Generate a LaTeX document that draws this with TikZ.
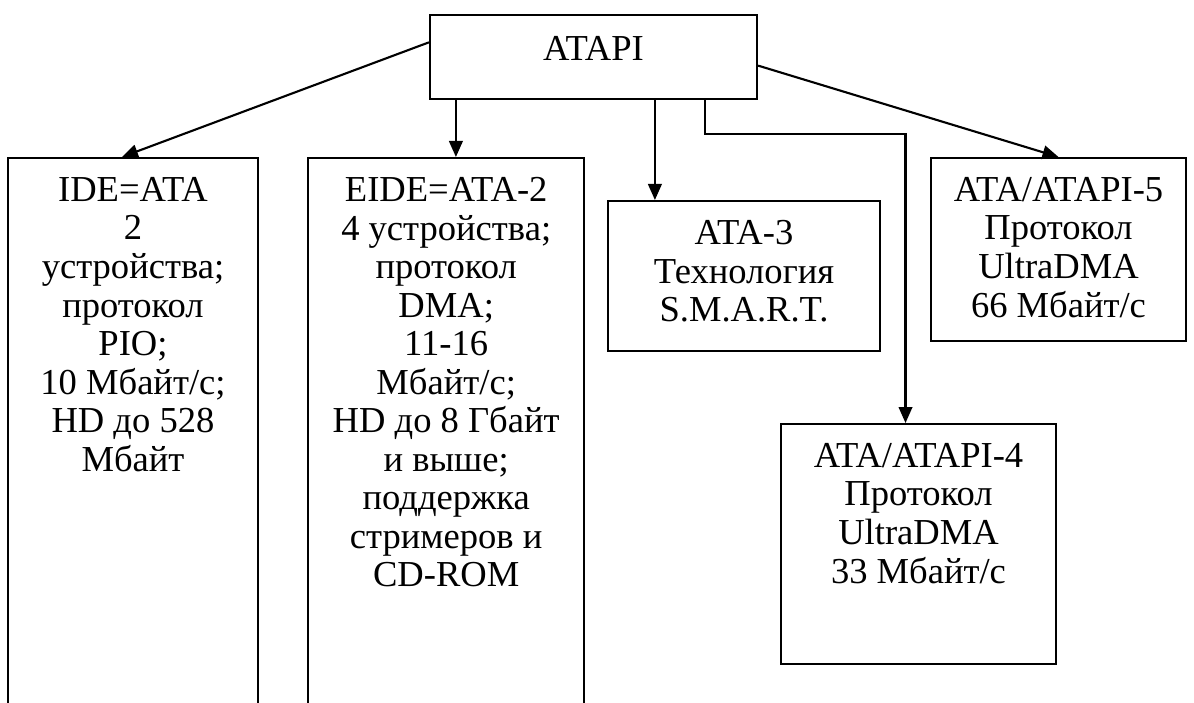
\documentclass[tikz,border=0pt]{standalone}
\usepackage{fontspec}
\setmainfont{Liberation Serif}
\usetikzlibrary{arrows.meta, positioning, calc}
\newcommand{\boxfont}{\fontsize{26}{27.4}\selectfont}

\begin{document}
\begin{tikzpicture}[
    x=0.025cm, y=-0.025cm,
    root/.style={rectangle, draw=black, line width=1.5pt, minimum width=8.175cm, minimum height=2.1cm, text depth=0.45cm, font=\boxfont},
    panel/.style={rectangle, draw=black, line width=1.5pt, anchor=north, inner sep=0pt},
    txt/.style={align=center, inner sep=0pt, font=\boxfont},
    arrow/.style={-{Triangle[length=0.4cm, width=0.34cm]}, line width=1.5pt},
]
\path[use as bounding box, clip] (0,0) rectangle (1194,702);

% Top node
\node[root] (root) at (593.5,57) {ATAPI};

% Standards (boxes)
\node[panel, minimum width=6.25cm, minimum height=15.1cm] (ide) at (133,157) {};
\node[panel, minimum width=6.9cm, minimum height=15.1cm, right=1.2cm of ide.north east, anchor=north west] (eide) {};
\node[panel, minimum width=6.8cm, minimum height=3.75cm] (ata3) at (744,200) {};
\node[panel, minimum width=6.375cm, minimum height=4.575cm] (ata5) at (1058.5,157) {};
\node[panel, minimum width=6.875cm, minimum height=6cm] (ata4) at (918.5,423) {};

% Standards (texts)
\node[txt, below=0.5cm of ide.north] (ide-t) {IDE=ATA\\2\\устройства;\\протокол\\PIO;\\10 Мбайт/с;\\HD до 528\\Мбайт};
\node[txt, below=0.5cm of eide.north] (eide-t) {EIDE=ATA-2\\4 устройства;\\протокол\\DMA;\\11-16\\Мбайт/с;\\HD до 8 Гбайт\\и выше;\\поддержка\\стримеров и\\CD-ROM};
\node[txt, below=0.5cm of ata3.north] (ata3-t) {ATA-3\\Технология\\S.M.A.R.T.};
\node[txt, below=0.5cm of ata5.north] (ata5-t) {ATA/ATAPI-5\\Протокол\\UltraDMA\\66 Мбайт/с};
\node[txt, below=0.5cm of ata4.north] (ata4-t) {ATA/ATAPI-4\\Протокол\\UltraDMA\\33 Мбайт/с};

% Connectors
\draw[arrow] ($(root.north west)!0.33!(root.south west)$) -- ($(ide.north)+(-11,0)$);
\draw[arrow] ($(root.south west)+(27,0)$) coordinate (d1) -- (d1 |- eide.north);
\draw[arrow] ($(root.south west)+(226,0)$) coordinate (d2) -- (d2 |- ata3.north);
\draw[arrow] ($(root.south west)+(276,0)$) -- ++(0,34) -| ($(ata4.north)+(-13,0)$);
\draw[arrow] ($(root.north east)!0.6!(root.south east)$) -- (ata5.north);

\end{tikzpicture}
\end{document}
